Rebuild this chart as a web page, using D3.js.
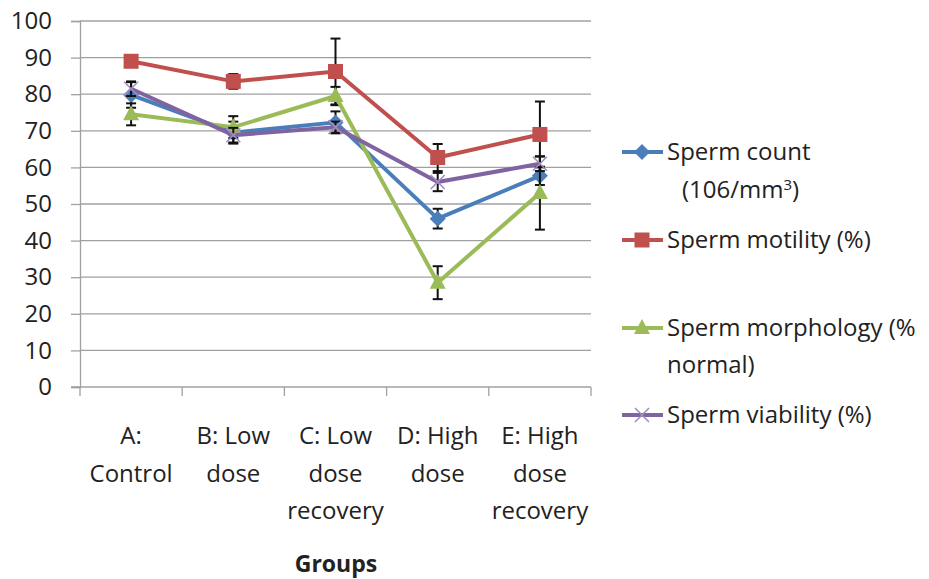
<!DOCTYPE html>
<html lang="en">
<head>
	<meta charset="UTF-8">
	<style>
	body { margin: 0; background: #fff; }
	svg { font-family: "Open Sans", "Noto Sans", sans-serif; }
	</style>
	<script src="https://d3js.org/d3.v7.min.js"></script>
	<title>Sperm parameters by group</title>
</head>
<body>
	<div id="chart"></div>
	<script>
		// Data
		const groups = ["A", "B", "C", "D", "E"];
		const groupLabels = [
			["A:", "Control"],
			["B: Low", "dose"],
			["C: Low", "dose", "recovery"],
			["D: High", "dose"],
			["E: High", "dose", "recovery"]
		];
		const yTicks = [0, 10, 20, 30, 40, 50, 60, 70, 80, 90, 100];

		const spermCount = [79.8, 69.5, 72.3, 46.0, 57.7];
		const spermCountErr = [3.5, 3.0, 3.0, 2.7, 2.5];
		const spermMotility = [89.0, 83.5, 86.2, 62.7, 69.0];
		const spermMotilityErr = [1.5, 2.0, 9.0, 3.7, 9.0];
		const spermMorphology = [74.5, 71.0, 79.5, 28.5, 53.0];
		const spermMorphologyErr = [3.0, 3.0, 2.5, 4.5, 10.0];
		const spermViability = [81.5, 68.8, 71.0, 56.0, 61.0];
		const spermViabilityErr = [2.0, 2.0, 1.5, 2.5, 2.0];

		const series = [
			{ name: ["Sperm count", "(106/mm3)"], values: spermCount, err: spermCountErr, color: "#4a7ebb", marker: "diamond" },
			{ name: ["Sperm motility (%)"], values: spermMotility, err: spermMotilityErr, color: "#c0504d", marker: "square" },
			{ name: ["Sperm morphology (%", "normal)"], values: spermMorphology, err: spermMorphologyErr, color: "#9bbb59", marker: "triangle" },
			{ name: ["Sperm viability (%)"], values: spermViability, err: spermViabilityErr, color: "#8064a2", marker: "cross" }
		];

		const width = 929, height = 579;
		const plot = { left: 80, right: 591, top: 21, bottom: 387 };
		const textColor = "#222";

		const svg = d3.select("#chart")
			.append("svg")
			.attr("width", width)
			.attr("height", height);

		const x = d3.scaleBand()
			.domain(groups)
			.range([plot.left, plot.right]);

		const y = d3.scaleLinear()
			.domain([0, 100])
			.range([plot.bottom, plot.top]);

		// Gridlines
		svg.append("g")
			.selectAll("line")
			.data(yTicks.filter(d => d > 0))
			.join("line")
			.attr("x1", plot.left)
			.attr("x2", plot.right)
			.attr("y1", d => y(d))
			.attr("y2", d => y(d))
			.attr("stroke", "#a0a0a0")
			.attr("stroke-width", 1.3);

		// Y axis
		const yAxis = svg.append("g")
			.attr("transform", `translate(${plot.left},0)`)
			.call(d3.axisLeft(y).tickValues(yTicks).tickSize(9).tickPadding(19));
		yAxis.select(".domain").attr("stroke", "#a0a0a0").attr("stroke-width", 1.3);
		yAxis.selectAll(".tick line").attr("stroke", "#a0a0a0").attr("stroke-width", 1.3);
		yAxis.selectAll(".tick text")
			.attr("font-family", "'Open Sans', sans-serif")
			.attr("font-size", 24)
			.attr("fill", textColor);

		// X axis (category boundaries as ticks)
		const xAxis = svg.append("g")
			.attr("transform", `translate(0,${plot.bottom})`);
		xAxis.append("line")
			.attr("x1", plot.left - 9)
			.attr("x2", plot.right)
			.attr("stroke", "#a0a0a0")
			.attr("stroke-width", 1.3);
		const bounds = groups.map(g => x(g)).concat([x(groups[groups.length - 1]) + x.bandwidth()]);
		xAxis.selectAll(".bound")
			.data(bounds)
			.join("line")
			.attr("class", "bound")
			.attr("x1", d => d)
			.attr("x2", d => d)
			.attr("y1", 0)
			.attr("y2", 9)
			.attr("stroke", "#a0a0a0")
			.attr("stroke-width", 1.3);

		// Category labels
		const catLabels = xAxis.selectAll(".cat")
			.data(groups)
			.join("text")
			.attr("class", "cat")
			.attr("text-anchor", "middle")
			.attr("font-size", 24)
			.attr("fill", textColor)
			.attr("transform", d => `translate(${x(d) + x.bandwidth() / 2},57)`);
		catLabels.each(function(d, i) {
			d3.select(this).selectAll("tspan")
				.data(groupLabels[i])
				.join("tspan")
				.attr("x", 0)
				.attr("y", (t, j) => j * 37.5)
				.text(t => t);
		});

		// X axis title
		svg.append("text")
			.attr("x", 336)
			.attr("y", 572)
			.attr("text-anchor", "middle")
			.attr("font-size", 23)
			.attr("font-weight", "bold")
			.attr("fill", textColor)
			.text("Groups");

		const line = d3.line()
			.x((d, i) => x(groups[i]) + x.bandwidth() / 2)
			.y(d => y(d));

		function drawMarker(g, type, color) {
			if (type === "diamond") {
				g.append("path").attr("d", "M0,-8L8,0L0,8L-8,0Z").attr("fill", color);
			} else if (type === "square") {
				g.append("rect").attr("x", -7.5).attr("y", -7.5).attr("width", 15).attr("height", 15).attr("fill", color);
			} else if (type === "triangle") {
				g.append("path").attr("d", "M0,-9L8,6L-8,6Z").attr("fill", color);
			} else {
				g.append("path").attr("d", "M-7,-7L7,7M-7,7L7,-7")
					.attr("stroke", "#a08cc0").attr("stroke-width", 1.5).attr("fill", "none");
			}
		}

		series.forEach(s => {
			const sg = svg.append("g");
			// error bars
			const eb = sg.append("g")
				.selectAll("g")
				.data(s.values)
				.join("g")
				.attr("transform", (d, i) => `translate(${x(groups[i]) + x.bandwidth() / 2},0)`);
			eb.append("line")
				.attr("y1", (d, i) => y(d + s.err[i]))
				.attr("y2", (d, i) => y(d - s.err[i]))
				.attr("stroke", "#111")
				.attr("stroke-width", 2);
			eb.append("line")
				.attr("x1", -5).attr("x2", 5)
				.attr("y1", (d, i) => y(d + s.err[i]))
				.attr("y2", (d, i) => y(d + s.err[i]))
				.attr("stroke", "#111").attr("stroke-width", 2);
			eb.append("line")
				.attr("x1", -5).attr("x2", 5)
				.attr("y1", (d, i) => y(d - s.err[i]))
				.attr("y2", (d, i) => y(d - s.err[i]))
				.attr("stroke", "#111").attr("stroke-width", 2);

			// line
			sg.append("path")
				.datum(s.values)
				.attr("d", line)
				.attr("fill", "none")
				.attr("stroke", s.color)
				.attr("stroke-width", 4)
				.attr("stroke-linejoin", "round");

			// markers
			sg.append("g")
				.selectAll("g")
				.data(s.values)
				.join("g")
				.attr("transform", (d, i) => `translate(${x(groups[i]) + x.bandwidth() / 2},${y(d)})`)
				.each(function() { drawMarker(d3.select(this), s.marker, s.color); });
		});

		// Legend
		const legendRows = [152, 240, 328, 415];
		const legend = svg.append("g");
		series.forEach((s, i) => {
			const row = legend.append("g").attr("transform", `translate(0,${legendRows[i]})`);
			row.append("line")
				.attr("x1", 622).attr("x2", 663)
				.attr("stroke", s.color).attr("stroke-width", 4);
			drawMarker(row.append("g").attr("transform", "translate(642,0)"), s.marker, s.color);
			const t = row.append("text")
				.attr("font-size", 24)
				.attr("fill", textColor)
				.attr("y", 8);
			s.name.forEach((n, j) => {
				if (i === 0 && j === 1) {
					t.append("tspan").attr("x", 682).attr("y", 8 + 38).text("(106/mm");
					t.append("tspan").attr("dy", -8).attr("font-size", 15).text("3");
					t.append("tspan").attr("dy", 8).text(")");
				} else {
					t.append("tspan").attr("x", 667).attr("y", 8 + j * 37).text(n);
				}
			});
		});
	</script>
</body>
</html>
